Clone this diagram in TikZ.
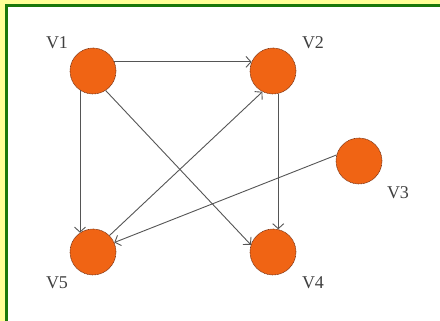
\documentclass[tikz,border=0pt]{standalone}
\usepackage{fontspec}
\setmainfont{Liberation Serif}
\usetikzlibrary{arrows.meta}
\definecolor{frameg}{RGB}{25,120,10}
\definecolor{frameY}{RGB}{255,255,150}
\definecolor{vfill}{RGB}{240,100,20}
\definecolor{vdraw}{RGB}{120,50,20}
\definecolor{edge}{RGB}{85,85,85}
\tikzset{
  vert/.style={circle,fill=vfill,draw=vdraw,dashed,dash pattern=on 1pt off 0.6pt,line width=0.6pt,minimum size=46pt,inner sep=0pt},
  lbl/.style={font=\fontsize{18}{18}\selectfont,text=black!75,inner sep=0pt},
  arc/.style={draw=edge,line width=0.9pt,-{Straight Barb[length=5pt,width=11pt,line width=0.9pt]}}
}
\begin{document}
\begin{tikzpicture}[x=1pt,y=-1pt]
\useasboundingbox (0,0) rectangle (440,321);
\fill[frameY] (0,0) rectangle (440,321);
\fill[frameg] (5,4) rectangle (440,321);
\fill[white] (8,7) rectangle (440,321);
\node[vert] (v1) at (93,71) {};
\node[vert] (v2) at (273,71) {};
\node[vert] (v3) at (359,161) {};
\node[vert] (v5) at (93,252) {};
\node[vert] (v4) at (273,252) {};
\node[lbl] (l1) at (57,43) {V1};
\node[lbl] (l2) at (313,43) {V2};
\node[lbl] (l3) at (398,193) {V3};
\node[lbl] (l5) at (57,283) {V5};
\node[lbl] (l4) at (313,283) {V4};
\draw[arc] (v1.23) -- (v2.157);
\draw[arc] (v1.236) -- (v5.124);
\draw[arc] (v2.-77) -- (v4.77);
\draw[arc] (v1.-57) -- (v4.162);
\draw[arc] (v5.45) -- (v2.243);
\draw[arc] (v3.165) -- (v5.24);
\end{tikzpicture}
\end{document}
